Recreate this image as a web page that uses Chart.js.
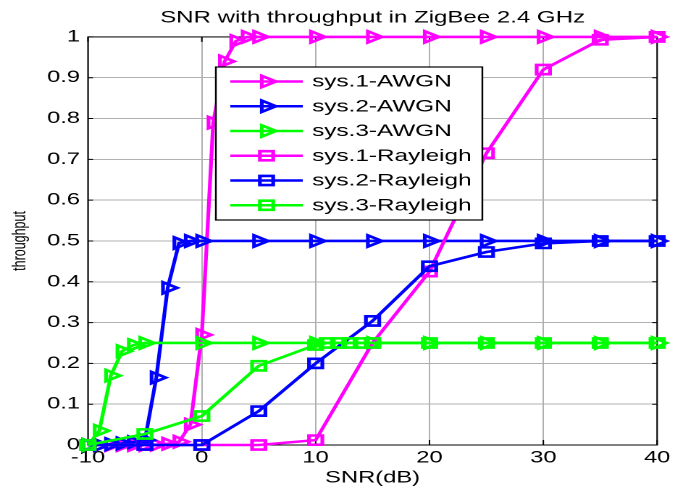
<!DOCTYPE html>
<html>
<head>
<meta charset="utf-8">
<script src="https://cdn.jsdelivr.net/npm/chart.js@4.4.1/dist/chart.umd.min.js"></script>
<style>
  html, body { margin: 0; padding: 0; background: #fff; }
  #chart { display: block; }
</style>
</head>
<body>
<canvas id="chart" width="466" height="495" style="width:675px;height:495px"></canvas>
<script>
// values
const snrAwgn1 = [-10, -9, -8, -7, -6, -5, -4, -3, -2, -1, 0, 1, 2, 3, 4, 5, 10, 15, 20, 25, 30, 35, 40];
const thrAwgn1 = [0, 0, 0, 0, 0, 0, 0.001, 0.003, 0.008, 0.05, 0.27, 0.79, 0.94, 0.99, 1, 1, 1, 1, 1, 1, 1, 1, 1];

const snrAwgn2 = [-10, -9, -8, -7, -6, -5, -4, -3, -2, -1, 0, 5, 10, 15, 20, 25, 30, 35, 40];
const thrAwgn2 = [0, 0, 0.002, 0.004, 0.007, 0.012, 0.165, 0.385, 0.495, 0.5, 0.5, 0.5, 0.5, 0.5, 0.5, 0.5, 0.5, 0.5, 0.5];

const snrAwgn3 = [-10, -9, -8, -7, -6, -5, 0, 5, 10, 15, 20, 25, 30, 35, 40];
const thrAwgn3 = [0, 0.035, 0.17, 0.23, 0.245, 0.25, 0.25, 0.25, 0.25, 0.25, 0.25, 0.25, 0.25, 0.25, 0.25];

const snrRay = [-10, -5, 0, 5, 10, 15, 20, 25, 30, 35, 40];
const thrRay1 = [0, 0, 0, 0, 0.012, 0.25, 0.425, 0.715, 0.92, 0.993, 1];
const thrRay2 = [0, 0, 0, 0.083, 0.2, 0.304, 0.438, 0.473, 0.494, 0.5, 0.5];

const snrRay3 = [-10, -5, 0, 5, 10, 11, 12, 13, 14, 15, 20, 25, 30, 35, 40];
const thrRay3 = [0, 0.027, 0.071, 0.194, 0.245, 0.25, 0.25, 0.25, 0.25, 0.25, 0.25, 0.25, 0.25, 0.25, 0.25];

const seriesNames = ["sys.1-AWGN", "sys.2-AWGN", "sys.3-AWGN", "sys.1-Rayleigh", "sys.2-Rayleigh", "sys.3-Rayleigh"];
const xTicks = [-10, 0, 10, 20, 30, 40];
const xTickLabels = ["-10", "0", "10", "20", "30", "40"];
const yTicks = [0, 0.1, 0.2, 0.3, 0.4, 0.5, 0.6, 0.7, 0.8, 0.9, 1];
const yTickLabels = ["0", "0.1", "0.2", "0.3", "0.4", "0.5", "0.6", "0.7", "0.8", "0.9", "1"];

const FONT = '"Liberation Sans", Arial, sans-serif';
const MAGENTA = "#ff00ff", BLUE = "#0000ff", GREEN = "#00ff00";

function pts(xs, ys) {
    return xs.map((x, i) => ({ x: x, y: ys[i] }));
}

function makeSet(i, xs, ys, color, tri) {
    return {
        label: seriesNames[i],
        data: pts(xs, ys),
        borderColor: color,
        backgroundColor: "rgba(0,0,0,0)",
        borderWidth: 2.6,
        pointStyle: tri ? "triangle" : "rect",
        pointRotation: tri ? 90 : 0,
        pointRadius: 6.5,
        pointBorderWidth: 2.6,
        pointBorderColor: color,
        pointBackgroundColor: "rgba(0,0,0,0)",
        tension: 0,
        clip: false,
        order: 6 - i
    };
}

// box, inward ticks and the legend box drawn inside the axes
const matlabFrame = {
    id: "matlabFrame",
    beforeDatasetsDraw(chart) {
        const { ctx, chartArea: a, scales } = chart;
        ctx.save();
        ctx.strokeStyle = "#000";
        ctx.lineWidth = 1;
        ctx.strokeRect(a.left, a.top, a.right - a.left, a.bottom - a.top);
        ctx.beginPath();
        xTicks.forEach(v => {
            const px = scales.x.getPixelForValue(v);
            ctx.moveTo(px, a.bottom); ctx.lineTo(px, a.bottom - 5);
            ctx.moveTo(px, a.top); ctx.lineTo(px, a.top + 5);
        });
        yTicks.forEach(v => {
            const py = scales.y.getPixelForValue(v);
            ctx.moveTo(a.left, py); ctx.lineTo(a.left + 3.5, py);
            ctx.moveTo(a.right, py); ctx.lineTo(a.right - 3.5, py);
        });
        ctx.stroke();
        ctx.restore();
    },
    afterDatasetsDraw(chart) {
        const ctx = chart.ctx;
        const box = { left: 149, top: 67, right: 333, bottom: 220 };
        ctx.save();
        ctx.fillStyle = "#fff";
        ctx.fillRect(box.left, box.top, box.right - box.left, box.bottom - box.top);
        ctx.strokeStyle = "#000";
        ctx.lineWidth = 1.2;
        ctx.strokeRect(box.left, box.top, box.right - box.left, box.bottom - box.top);
        chart.data.datasets.forEach((ds, i) => {
            const yy = 81.5 + i * 24.75;
            ctx.strokeStyle = ds.borderColor;
            ctx.lineWidth = ds.borderWidth;
            ctx.beginPath();
            ctx.moveTo(159, yy);
            ctx.lineTo(209, yy);
            ctx.stroke();
            ctx.fillStyle = "rgba(0,0,0,0)";
            ctx.lineWidth = ds.pointBorderWidth;
            Chart.helpers.drawPoint(ctx, {
                pointStyle: ds.pointStyle,
                rotation: ds.pointRotation,
                radius: ds.pointRadius,
                borderWidth: ds.pointBorderWidth
            }, 184, yy);
            ctx.fillStyle = "#000";
            ctx.font = "16.8px " + FONT;
            ctx.textBaseline = "middle";
            ctx.textAlign = "left";
            ctx.fillText(ds.label, 215.5, yy + 0.5);
        });
        ctx.restore();
    }
};

const ctx = document.getElementById("chart").getContext("2d");
const snrChart = new Chart(ctx, {
    type: "line",
    data: {
        datasets: [
            makeSet(0, snrAwgn1, thrAwgn1, MAGENTA, true),
            makeSet(1, snrAwgn2, thrAwgn2, BLUE, true),
            makeSet(2, snrAwgn3, thrAwgn3, GREEN, true),
            makeSet(3, snrRay, thrRay1, MAGENTA, false),
            makeSet(4, snrRay, thrRay2, BLUE, false),
            makeSet(5, snrRay3, thrRay3, GREEN, false)
        ]
    },
    options: {
        responsive: false,
        animation: false,
        devicePixelRatio: 2,
        layout: { padding: { left: 0, right: 9, top: 0, bottom: 0 } },
        plugins: {
            legend: { display: false },
            tooltip: { enabled: false },
            title: {
                display: true,
                text: "SNR with throughput in ZigBee 2.4 GHz",
                color: "#000",
                fullSize: false,
                font: { family: FONT, size: 16.6, weight: "normal" },
                padding: { top: 8, bottom: 9 }
            }
        },
        scales: {
            x: {
                type: "linear",
                min: -10,
                max: 40,
                afterBuildTicks: s => { s.ticks = xTicks.map(v => ({ value: v })); },
                afterFit: s => { s.height = 50; },
                ticks: {
                    color: "#000",
                    padding: 3.2,
                    maxRotation: 0,
                    font: { family: FONT, size: 16.4 },
                    callback: (v, i) => xTickLabels[i]
                },
                grid: { color: "#b0b0b0", lineWidth: 1, drawTicks: false },
                border: { display: false },
                title: {
                    display: true,
                    text: "SNR(dB)",
                    color: "#000",
                    font: { family: FONT, size: 16.4 },
                    padding: { top: 0, bottom: 7 }
                }
            },
            y: {
                min: 0,
                max: 1,
                afterBuildTicks: s => { s.ticks = yTicks.map(v => ({ value: v })); },
                afterFit: s => { s.width = 60.75; },
                ticks: {
                    color: "#000",
                    padding: 5.5,
                    font: { family: FONT, size: 16.4 },
                    callback: (v, i) => yTickLabels[i]
                },
                grid: { color: "#b0b0b0", lineWidth: 1, drawTicks: false },
                border: { display: false },
                title: {
                    display: true,
                    text: "throughput",
                    color: "#000",
                    font: { family: FONT, size: 12.5 },
                    padding: { top: 6.3, bottom: 0 }
                }
            }
        }
    },
    plugins: [matlabFrame]
});
</script>
</body>
</html>
